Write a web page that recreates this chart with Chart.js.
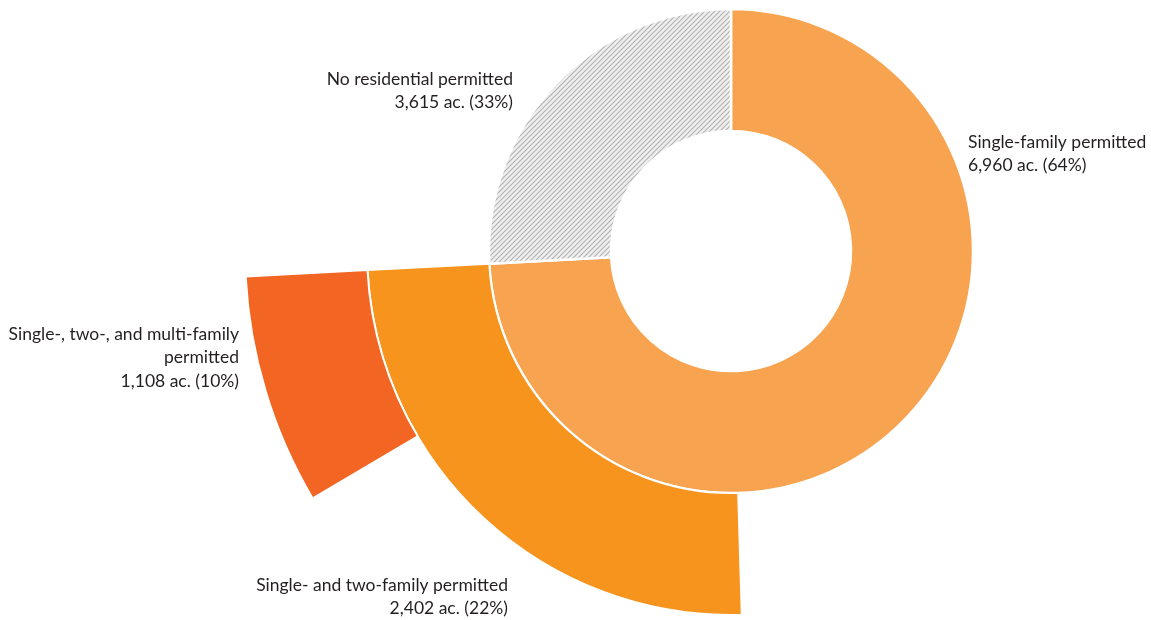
<!DOCTYPE html>
<html>
<head>
<meta charset="utf-8">
<script src="https://cdn.jsdelivr.net/npm/chart.js@4.4.1/dist/chart.umd.min.js"></script>
<style>
  html, body { margin: 0; padding: 0; background: #ffffff; width: 1151px; height: 620px; overflow: hidden; }
  #wrap { position: absolute; left: 0; top: -119px; width: 1462px; height: 740px; }
</style>
</head>
<body>
<div id="wrap"><canvas id="c" width="1462" height="740"></canvas></div>
<script>
// ---- data ----
const categories = ['Single-family permitted', 'No residential permitted', 'Single- and two-family permitted', 'Single-, two-, and multi-family permitted'];
const acres = [6960, 3615, 2402, 1108];
const percents = [64, 33, 22, 10];
// arc spans as drawn in the picture (degrees, clockwise from 12 o'clock)
const innerArcs = [267, 93];          // single-family, no residential
const middleArcs = [178.3, 88.7, 93]; // gap, single- and two-family, gap
const outerArcs = [239.4, 27.6, 93];  // gap, single-, two-, multi-family, gap

const colSingle = '#F7A34F';
const colTwo = '#F7941E';
const colMulti = '#F26522';
const clear = 'rgba(0,0,0,0)';

// hatch pattern for "No residential permitted"
function hatch() {
  const s = 5;
  const p = document.createElement('canvas');
  p.width = s; p.height = s;
  const g = p.getContext('2d');
  g.fillStyle = '#efefef';
  g.fillRect(0, 0, s, s);
  g.strokeStyle = '#b3b3b3';
  g.lineWidth = 1.2;
  g.beginPath();
  g.moveTo(-1, s + 1); g.lineTo(s + 1, -1);
  g.moveTo(-1, 1); g.lineTo(1, -1);
  g.moveTo(s - 1, s + 1); g.lineTo(s + 1, s - 1);
  g.stroke();
  return g.createPattern(p, 'repeat');
}

const PAGE_TOP = -119; // canvas top offset in page coordinates
const labelLines = [
  ['Single-family permitted'],
  ['No residential permitted'],
  ['Single- and two-family permitted'],
  ['Single-, two-, and multi-family', 'permitted']
];
// label anchors (page coords): x, first-line y, alignment
const labelPos = [
  { x: 968, y: 142, align: 'left' },
  { x: 513, y: 79, align: 'right' },
  { x: 508, y: 585, align: 'right' },
  { x: 239, y: 334, align: 'right' }
];

const labelsPlugin = {
  id: 'labels',
  afterDraw(chart) {
    const ctx = chart.ctx;
    ctx.save();
    ctx.fillStyle = '#231f20';
    ctx.font = '17.5px Lato, "Open Sans", sans-serif';
    ctx.textBaseline = 'middle';
    categories.forEach((c, i) => {
      const lines = labelLines[i].concat([acres[i].toLocaleString('en-US') + ' ac. (' + percents[i] + '%)']);
      const p = labelPos[i];
      ctx.textAlign = p.align;
      lines.forEach((t, k) => {
        ctx.fillText(t, p.x, p.y - PAGE_TOP + k * 23.5);
      });
    });
    ctx.restore();
  }
};

new Chart(document.getElementById('c'), {
  type: 'doughnut',
  data: {
    labels: ['a', 'b', 'c'],
    datasets: [
      { data: outerArcs, backgroundColor: [clear, colMulti, clear], borderColor: '#ffffff', borderWidth: [0, 2, 0] },
      { data: middleArcs, backgroundColor: [clear, colTwo, clear], borderColor: '#ffffff', borderWidth: [0, 2, 0] },
      { data: innerArcs, backgroundColor: [colSingle, hatch()], borderColor: '#ffffff', borderWidth: [2.5, 2.5] }
    ]
  },
  options: {
    responsive: false,
    animation: false,
    events: [],
    radius: 486,
    cutout: '24.7%',
    layout: { padding: 0 },
    plugins: { legend: { display: false }, tooltip: { enabled: false }, title: { display: false } }
  },
  plugins: [labelsPlugin]
});
</script>
</body>
</html>
